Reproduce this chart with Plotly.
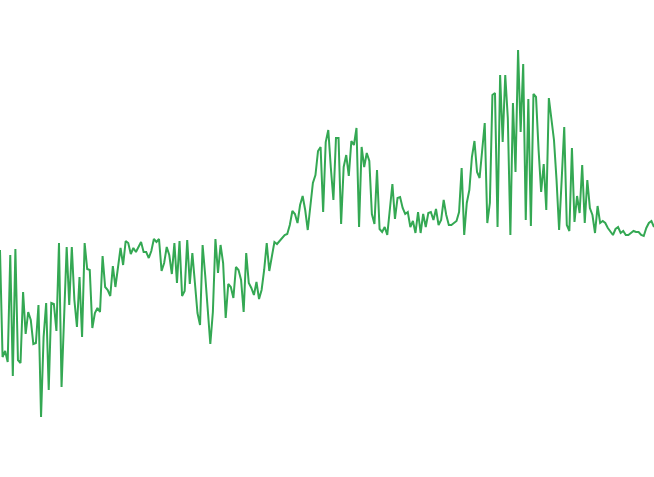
import plotly.graph_objects as go

# valores (altura a partir da base, 0 = fundo da figura)
heights_px = [
    250, 357, 351, 362, 255, 376, 249, 360, 363, 292, 334, 312, 320, 344, 343, 305, 417, 337, 303, 390,
    303, 304, 331, 243, 387, 320, 247, 305, 247, 300, 327, 277, 337, 243, 269, 270, 328, 313, 308, 312, 256,
    287, 290, 296, 266, 287, 267, 248, 265, 241, 243, 254, 248, 252, 247, 242, 252, 252, 258, 251, 239,
    242, 239, 271, 263, 247, 255, 274, 243, 283, 241, 296, 291, 240, 284, 253, 283, 313, 325, 245, 275, 310, 344,
    312, 239, 273, 245, 263, 318, 284, 287, 298, 267, 270, 280, 312, 253, 283, 288, 295, 282, 299, 290,
    270, 243, 271, 257, 242, 244, 241, 237, 235, 234, 225, 211, 214, 223, 205, 196, 210, 230,
    207, 183, 175, 151, 147, 212, 142, 130, 168, 200, 138, 138, 224, 167, 155, 176, 141, 145, 128, 227,
    147, 167, 153, 161, 214, 224, 170, 229, 232, 227, 235, 207, 184, 219, 198, 197, 208, 214, 212, 227,
    221, 233, 212, 233, 214, 227, 213, 212, 220, 209, 225, 220, 200, 215, 225, 225, 223, 221, 212,
    168, 235, 203, 190, 157, 141, 172, 178, 152, 123, 223, 203, 95, 93, 227, 75, 142, 75, 118, 235,
    103, 172, 50, 132, 64, 220, 99, 226, 94, 97, 150, 192, 164, 210, 98, 122, 140, 180, 230,
    180, 127, 225, 231, 148, 222, 196, 213, 165, 223, 180, 208, 215, 233, 206, 223, 221, 223, 228, 232,
    235, 229, 227, 233, 231, 235, 235, 233, 231, 232, 232, 235, 236, 228, 223, 221, 227,
]
values = [477 - h for h in heights_px]
steps = list(range(len(values)))

fig = go.Figure()
fig.add_trace(go.Scatter(x=steps, y=values, mode='lines',
                         line=dict(color='#34a853', width=2)))

fig.update_layout(width=654, height=477, margin={'r': 0, 't': 0, 'l': 0, 'b': 0},
                  plot_bgcolor='white', paper_bgcolor='white', showlegend=False)
fig.update_xaxes(visible=False, range=[0, len(values) - 1])
fig.update_yaxes(visible=False, range=[0, 477])

# tira a margem padrao do body para o grafico encostar nas bordas
fig.write_html('out.html', config={'displayModeBar': False},
               post_script="document.body.style.margin='0';")
